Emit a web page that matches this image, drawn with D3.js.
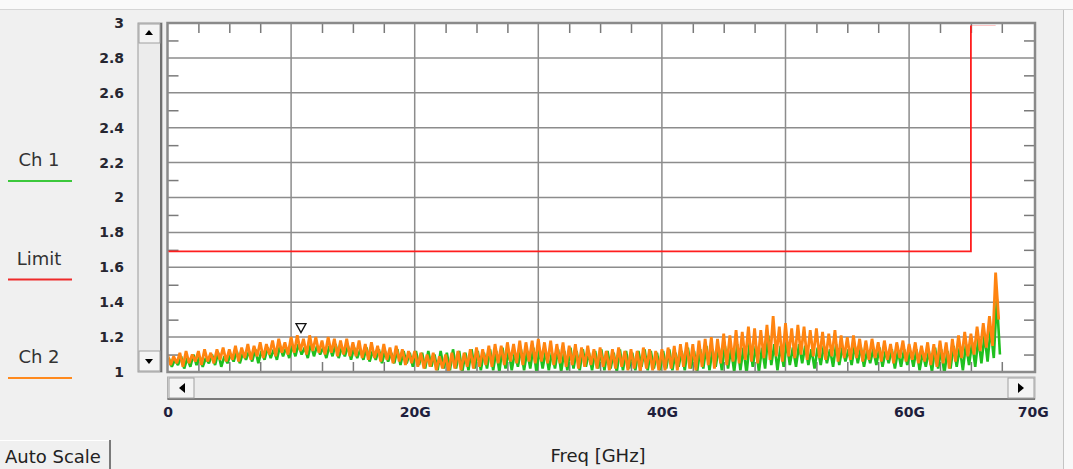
<!DOCTYPE html>
<html>
<head>
<meta charset="utf-8">
<script src="https://cdn.jsdelivr.net/npm/d3@7"></script>
<style>
  body { margin: 0; background: #f0f0f0; }
  svg { display: block; font-family: "DejaVu Sans", sans-serif; }
</style>
</head>
<body>
<div id="chart"></div>
<script>
// sweep 0 .. 67 GHz, one hi/lo pair every 0.5 GHz
const ch2Hi = [1.10,1.09,1.11,1.12,1.10,1.12,1.13,1.11,1.13,1.14,
  1.13,1.15,1.14,1.16,1.15,1.17,1.16,1.18,1.19,1.17,
  1.20,1.21,1.19,1.21,1.20,1.18,1.20,1.19,1.18,1.19,
  1.17,1.18,1.16,1.17,1.15,1.16,1.14,1.15,1.13,1.12,
  1.12,1.11,1.10,1.11,1.09,1.10,1.11,1.12,1.11,1.13,
  1.14,1.13,1.15,1.16,1.15,1.17,1.16,1.18,1.17,1.18,
  1.19,1.17,1.18,1.16,1.17,1.15,1.16,1.14,1.15,1.13,
  1.14,1.12,1.13,1.14,1.12,1.13,1.12,1.14,1.13,1.12,
  1.13,1.14,1.15,1.16,1.17,1.16,1.18,1.19,1.20,1.19,
  1.22,1.21,1.24,1.23,1.26,1.25,1.24,1.27,1.32,1.26,
  1.28,1.25,1.27,1.26,1.24,1.25,1.23,1.22,1.24,1.21,
  1.20,1.21,1.19,1.18,1.19,1.17,1.18,1.16,1.17,1.18,
  1.16,1.17,1.15,1.17,1.16,1.18,1.17,1.19,1.21,1.23,
  1.22,1.26,1.28,1.32,1.57];
const ch2Lo = [1.04,1.05,1.03,1.05,1.06,1.04,1.06,1.05,1.07,1.06,
  1.07,1.06,1.08,1.07,1.09,1.08,1.10,1.09,1.11,1.10,
  1.11,1.12,1.10,1.12,1.11,1.10,1.11,1.09,1.10,1.09,
  1.09,1.08,1.07,1.08,1.06,1.07,1.05,1.06,1.04,1.05,
  1.03,1.02,1.03,1.01,1.02,1.00,1.02,1.01,1.03,1.02,
  1.03,1.04,1.03,1.05,1.04,1.06,1.05,1.04,1.06,1.05,
  1.06,1.05,1.04,1.05,1.03,1.04,1.02,1.03,1.04,1.02,
  1.03,1.01,1.02,1.03,1.01,1.02,1.00,1.02,1.01,1.01,
  1.01,1.02,1.01,1.03,1.02,1.01,1.03,1.04,1.02,1.05,
  1.04,1.06,1.05,1.07,1.06,1.05,1.08,1.07,1.09,1.06,
  1.09,1.08,1.10,1.07,1.09,1.08,1.07,1.09,1.06,1.08,
  1.07,1.08,1.06,1.07,1.08,1.06,1.07,1.05,1.08,1.06,
  1.07,1.05,1.06,1.04,1.03,1.05,1.02,1.06,1.08,1.09,
  1.10,1.12,1.14,1.15,1.30];
const ch1Hi = [1.08,1.07,1.09,1.08,1.10,1.09,1.08,1.10,1.11,1.09,
  1.10,1.12,1.11,1.12,1.13,1.12,1.14,1.13,1.15,1.14,
  1.15,1.16,1.14,1.16,1.15,1.14,1.15,1.16,1.14,1.15,
  1.14,1.13,1.14,1.12,1.13,1.12,1.11,1.13,1.12,1.11,
  1.12,1.11,1.12,1.10,1.12,1.11,1.13,1.12,1.11,1.13,
  1.12,1.11,1.13,1.12,1.14,1.12,1.11,1.13,1.12,1.14,
  1.13,1.12,1.11,1.13,1.12,1.14,1.12,1.13,1.11,1.12,
  1.13,1.12,1.11,1.13,1.12,1.11,1.12,1.13,1.12,1.11,
  1.12,1.13,1.11,1.12,1.14,1.12,1.13,1.15,1.13,1.14,
  1.15,1.13,1.16,1.14,1.17,1.15,1.14,1.21,1.16,1.15,
  1.17,1.14,1.16,1.15,1.13,1.14,1.15,1.13,1.16,1.14,
  1.13,1.15,1.14,1.12,1.13,1.14,1.12,1.13,1.12,1.13,
  1.12,1.13,1.11,1.12,1.14,1.13,1.12,1.15,1.14,1.16,
  1.17,1.19,1.21,1.25,1.42];
const ch1Lo = [1.03,1.04,1.02,1.03,1.04,1.03,1.05,1.04,1.03,1.05,
  1.06,1.05,1.07,1.06,1.05,1.07,1.08,1.07,1.09,1.08,
  1.09,1.10,1.08,1.09,1.10,1.08,1.09,1.08,1.09,1.07,
  1.08,1.07,1.06,1.07,1.05,1.06,1.05,1.04,1.05,1.03,
  1.04,1.02,1.03,1.01,1.02,1.01,1.02,1.00,1.01,1.02,
  1.01,1.02,1.01,1.00,1.02,1.01,1.03,1.01,1.02,1.00,
  1.02,1.01,1.02,1.00,1.01,1.02,1.01,1.03,1.01,1.02,
  1.01,1.02,1.00,1.01,1.02,1.01,1.03,1.01,1.02,1.01,
  1.02,1.01,1.03,1.01,1.02,1.00,1.02,1.01,1.03,1.01,
  1.02,1.00,1.01,0.99,1.03,1.00,1.02,1.04,1.01,1.03,
  1.04,1.03,1.05,1.04,1.02,1.04,1.05,1.03,1.04,1.06,
  1.04,1.05,1.03,1.05,1.04,1.03,1.05,1.02,1.03,1.04,
  1.03,1.01,1.03,1.00,1.02,0.99,1.02,1.03,1.01,1.04,
  1.03,1.05,1.06,1.08,1.10];
const freqStep = 0.5;

const limitFreq = [0, 65, 67];
const limitVal = [1.7, 3, 3];

const markerFreq = 10.8;
const markerVal = 1.22;

const yTicks = [1, 1.2, 1.4, 1.6, 1.8, 2, 2.2, 2.4, 2.6, 2.8, 3];
const xLabels = [0, 20, 40, 60, 70];
const xGrid = [10, 20, 30, 40, 50, 60];
const yGrid = [1.2, 1.4, 1.6, 1.8, 2, 2.2, 2.4, 2.6, 2.8];
const legend = [
  {name: 'Ch 1', color: '#3cc83c'},
  {name: 'Limit', color: '#ee2a2a'},
  {name: 'Ch 2', color: '#ff8a1e'}
];

const W = 1073, H = 469;
const L = 167.5, R = 1035, T = 23, B = 372;

let svg = d3.select('#chart').append('svg')
            .attr('width', W)
            .attr('height', H);

// window chrome
svg.append('rect').attr('width', W).attr('height', H).attr('fill', '#f0f0f0');
svg.append('rect').attr('width', W).attr('height', 9).attr('fill', '#fafafa');
svg.append('line').attr('x1', 0).attr('x2', W).attr('y1', 9.5).attr('y2', 9.5)
   .attr('stroke', '#d6d6d6');
svg.append('rect').attr('x', 1064).attr('y', 10).attr('width', 9).attr('height', H)
   .attr('fill', '#f8f8f8');
svg.append('line').attr('x1', 1063.5).attr('x2', 1063.5).attr('y1', 10).attr('y2', H)
   .attr('stroke', '#c4c4c4');

let x = d3.scaleLinear().domain([0, 70]).range([L, 1032.7]);
let y = d3.scaleLinear().domain([1, 3]).range([B, T]);

// plot area
svg.append('rect').attr('x', L).attr('y', T).attr('width', R - L).attr('height', B - T)
   .attr('fill', '#fff');

svg.append('clipPath').attr('id', 'clip')
   .append('rect').attr('x', L + 1).attr('y', T + 1).attr('width', R - L - 2).attr('height', B - T - 2);

let grid = svg.append('g').attr('stroke', '#8c8c8c').attr('stroke-width', 1.5);
grid.selectAll('.vg').data(xGrid).join('line')
    .attr('x1', d => x(d)).attr('x2', d => x(d)).attr('y1', T).attr('y2', B);
grid.selectAll('.hg').data(yGrid).join('line')
    .attr('class', 'hg')
    .attr('x1', L).attr('x2', R).attr('y1', d => y(d)).attr('y2', d => y(d));

// minor ticks, pointing into the plot
const xMinor = d3.range(2.5, 70, 2.5).filter(v => v % 10 !== 0);
const yMinor = d3.range(1.1, 3, 0.2);

function minorAxis(axis, tr) {
  let g = svg.append('g').attr('transform', tr).call(axis);
  g.select('.domain').remove();
  g.selectAll('text').remove();
  g.selectAll('line').attr('stroke', '#7a7a7a').attr('stroke-width', 1.5);
}
minorAxis(d3.axisTop(x).tickValues(xMinor).tickSize(-10), 'translate(0,' + T + ')');
minorAxis(d3.axisBottom(x).tickValues(xMinor).tickSize(-10), 'translate(0,' + B + ')');
minorAxis(d3.axisLeft(y).tickValues(yMinor).tickSize(-11), 'translate(' + L + ',0)');
minorAxis(d3.axisRight(y).tickValues(yMinor).tickSize(-11), 'translate(' + R + ',0)');

// traces
function zigzag(hi, lo, shift) {
  let pts = [];
  hi.forEach((h, i) => {
    pts.push([i * freqStep + shift, h]);
    pts.push([i * freqStep + shift + freqStep / 2, lo[i]]);
  });
  return pts;
}

let line = d3.line()
             .x(d => x(d[0]))
             .y(d => y(d[1]));

let traces = svg.append('g').attr('clip-path', 'url(#clip)');

traces.append('path')
      .datum(zigzag(ch1Hi, ch1Lo, 0.1))
      .attr('fill', 'none')
      .attr('stroke', '#1fc01f')
      .attr('stroke-width', 2.6)
      .attr('stroke-linejoin', 'bevel')
      .attr('d', line);

traces.append('path')
      .datum(zigzag(ch2Hi, ch2Lo, 0))
      .attr('fill', 'none')
      .attr('stroke', '#ff8410')
      .attr('stroke-width', 2.8)
      .attr('stroke-linejoin', 'bevel')
      .attr('d', line);

// marker
let mx = x(markerFreq), my = y(markerVal);
svg.append('path')
   .attr('d', `M${mx},${my - 1} L${mx - 5},${my - 10} L${mx + 5},${my - 10} Z`)
   .attr('fill', '#fff')
   .attr('stroke', '#111')
   .attr('stroke-width', 1.3);

// plot border
svg.append('rect').attr('x', L).attr('y', T).attr('width', R - L).attr('height', B - T)
   .attr('fill', 'none').attr('stroke', '#8a8a8a').attr('stroke-width', 2.5);

// limit line, drawn over the frame but inside it
svg.append('path')
   .attr('clip-path', 'url(#clip)')
   .datum(limitFreq.map((f, i) => [f, limitVal[i]]))
   .attr('fill', 'none')
   .attr('stroke', '#ff1e1e')
   .attr('stroke-width', 1.8)
   .attr('transform', 'translate(0,1.5)')
   .attr('d', line.curve(d3.curveStepAfter));
line.curve(d3.curveLinear);

// vertical scrollbar
let vs = svg.append('g');
vs.append('rect').attr('x', 138).attr('y', T).attr('width', 24).attr('height', B - T)
  .attr('fill', '#ececec').attr('stroke', '#9a9a9a');
vs.append('line').attr('x1', 161).attr('x2', 161).attr('y1', T).attr('y2', B)
  .attr('stroke', '#6e6e6e').attr('stroke-width', 2);
vs.append('rect').attr('x', 139).attr('y', T + 1).attr('width', 21).attr('height', 19)
  .attr('fill', '#f4f4f4').attr('stroke', '#a0a0a0');
vs.append('path').attr('d', 'M145,35 L153,35 L149,30 Z').attr('fill', '#000');
vs.append('rect').attr('x', 139).attr('y', 351).attr('width', 21).attr('height', 20)
  .attr('fill', '#f4f4f4').attr('stroke', '#a0a0a0');
vs.append('path').attr('d', 'M145,359 L153,359 L149,364 Z').attr('fill', '#000');

// horizontal scrollbar
let hs = svg.append('g');
hs.append('rect').attr('x', L).attr('y', 377).attr('width', R - L).attr('height', 22)
  .attr('fill', '#ececec').attr('stroke', '#b0b0b0');
hs.append('line').attr('x1', L).attr('x2', R).attr('y1', 399).attr('y2', 399)
  .attr('stroke', '#7a7a7a').attr('stroke-width', 2);
hs.append('rect').attr('x', 169).attr('y', 378).attr('width', 25).attr('height', 20)
  .attr('fill', '#f4f4f4').attr('stroke', '#a0a0a0');
hs.append('path').attr('d', 'M185,383 L185,393 L179,388 Z').attr('fill', '#000');
hs.append('rect').attr('x', 1008).attr('y', 378).attr('width', 26).attr('height', 20)
  .attr('fill', '#f4f4f4').attr('stroke', '#a0a0a0');
hs.append('path').attr('d', 'M1018,383 L1018,393 L1024,388 Z').attr('fill', '#000');

// y labels
let yAxis = svg.append('g')
               .attr('transform', 'translate(124,0)')
               .call(d3.axisLeft(y).tickValues(yTicks).tickSize(0).tickPadding(0)
                       .tickFormat(d3.format('~g')));
yAxis.select('.domain').remove();
yAxis.selectAll('text')
     .attr('font-family', 'DejaVu Sans')
     .attr('font-weight', 'bold')
     .attr('font-size', 14)
     .attr('fill', '#262630');

// x labels
let xAxis = svg.append('g')
               .attr('transform', 'translate(0,407)')
               .call(d3.axisBottom(x).tickValues(xLabels).tickSize(0).tickPadding(0)
                       .tickFormat(d => d === 0 ? '0' : d + 'G'));
xAxis.select('.domain').remove();
xAxis.selectAll('text')
     .attr('font-family', 'DejaVu Sans')
     .attr('font-weight', 'bold')
     .attr('font-size', 14)
     .attr('fill', '#1e1e3c');

svg.append('text')
   .attr('x', 598).attr('y', 462)
   .attr('text-anchor', 'middle')
   .attr('font-size', 18)
   .attr('fill', '#222')
   .text('Freq [GHz]');

// legend
let lg = svg.append('g').selectAll('g').data(legend).join('g')
            .attr('transform', (d, i) => 'translate(0,' + (166 + i * 98.5) + ')');
lg.append('text')
  .attr('x', 39).attr('y', 0)
  .attr('text-anchor', 'middle')
  .attr('font-size', 18)
  .attr('fill', '#333')
  .text(d => d.name);
lg.append('line')
  .attr('x1', 8).attr('x2', 72).attr('y1', 15).attr('y2', 15)
  .attr('stroke', d => d.color).attr('stroke-width', 2);

// auto scale button
svg.append('line').attr('x1', 0).attr('x2', 110).attr('y1', 440.5).attr('y2', 440.5)
   .attr('stroke', '#fff');
svg.append('line').attr('x1', 110).attr('x2', 110).attr('y1', 440).attr('y2', H)
   .attr('stroke', '#7a7a7a').attr('stroke-width', 2);
svg.append('text')
   .attr('x', 5).attr('y', 463)
   .attr('font-size', 18)
   .attr('fill', '#222')
   .text('Auto Scale');
</script>
</body>
</html>
